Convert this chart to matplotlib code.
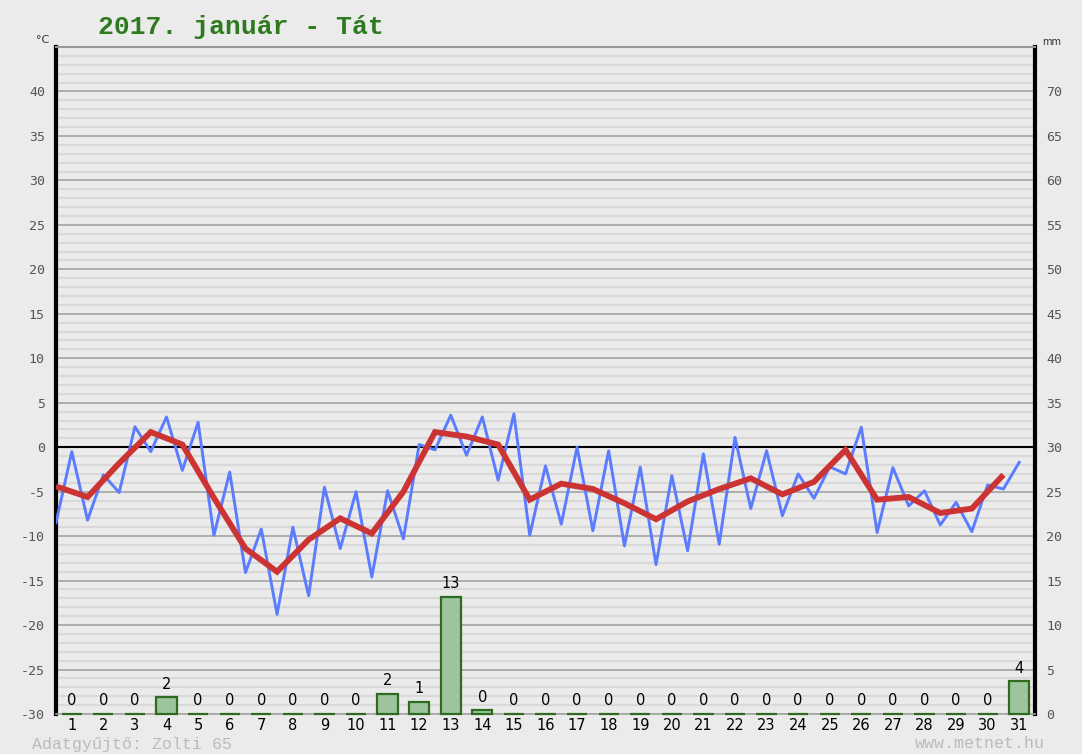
import numpy as np
import matplotlib.pyplot as plt

# daily data, 2017 January, Tát
days = np.arange(1, 32)
t_mean = [-4.4, -5.6, -1.8, 1.7, 0.3, -5.7, -11.4, -14.0, -10.4, -8.0,
          -9.7, -5.0, 1.7, 1.2, 0.3, -5.9, -4.1, -4.7, -6.3, -8.1,
          -6.1, -4.7, -3.5, -5.3, -3.9, -0.3, -5.9, -5.6, -7.4, -6.9, -3.1]
# two readings per day (min, max)
t_minmax = [-8.5, -0.5, -8.2, -3.1, -5.1, 2.3, -0.5, 3.4, -2.6, 2.8,
            -9.9, -2.8, -14.1, -9.2, -18.8, -9.0, -16.7, -4.5, -11.4, -5.0,
            -14.6, -4.9, -10.3, 0.3, -0.3, 3.6, -0.9, 3.4, -3.7, 3.75,
            -9.9, -2.1, -8.65, 0.0, -9.4, -0.4, -11.1, -2.25, -13.2, -3.2,
            -11.65, -0.75, -10.9, 1.1, -6.9, -0.4, -7.7, -3.0, -5.75, -2.2,
            -3.0, 2.25, -9.6, -2.3, -6.6, -4.9, -8.75, -6.2, -9.5, -4.25,
            -4.7, -1.7]
precip = [0, 0, 0, 1.9, 0, 0, 0, 0, 0, 0,
          2.25, 1.35, 13.2, 0.4, 0, 0, 0, 0, 0, 0,
          0, 0, 0, 0, 0, 0, 0, 0, 0, 0, 3.7]

bg = '#ebebeb'
fig = plt.figure(figsize=(10.82, 7.54), dpi=100, facecolor=bg)
ax = fig.add_axes([56 / 1082, 40 / 754, 979 / 1082, 667 / 754])
ax.set_facecolor(bg)

# grid: minor every 1 degree, major every 5
for v in range(-29, 45):
    if v % 5 != 0:
        ax.axhline(v, color='#d9d9d9', lw=1.6, zorder=0)
for v in range(-30, 45, 5):
    ax.axhline(v, color='#a3a3a3', lw=1.2, zorder=0.5)
ax.axhline(0, color='black', lw=1.5, zorder=1)

ax.set_xlim(0, 31)
ax.set_ylim(-30, 45)

x_half = np.arange(len(t_minmax)) * 0.5
ax.plot(x_half, t_minmax, color='#5b7cff', lw=2.1, zorder=3)
ax.plot(days - 1, t_mean, color='#cc3333', lw=4.2, zorder=4,
        solid_joinstyle='miter', solid_capstyle='butt')

ax.set_yticks(range(-30, 45, 5))
ax.set_yticklabels([str(v) for v in range(-30, 45, 5)],
                   fontfamily='DejaVu Sans Mono', fontsize=9.5, color='#555555')
ax.tick_params(axis='y', length=0, pad=8)
ax.set_xticks(days - 0.5)
ax.set_xticklabels([str(d) for d in days], fontsize=10.5, color='black')
ax.tick_params(axis='x', length=0, pad=3)

for s in ['left', 'right']:
    ax.spines[s].set_linewidth(3)
    ax.spines[s].set_color('black')
ax.spines['top'].set_color('#999999')
ax.spines['top'].set_linewidth(1.5)
ax.spines['bottom'].set_color('#a3a3a3')
ax.spines['bottom'].set_linewidth(1.2)

# precipitation on the mm axis
ax2 = ax.twinx()
ax2.set_ylim(0, 75)
bars = ax2.bar(days - 0.5, precip, width=0.64, color='#9dc49d', edgecolor='#2e6b1e',
               linewidth=1.6, zorder=2)
for b in bars:
    b.set_clip_on(False)
for d, p in zip(days, precip):
    ax2.annotate(f"{p:.0f}", (d - 0.5, p), xytext=(0, 4), textcoords='offset points',
                 ha='center', va='bottom', fontsize=10.5, color='black')
ax2.set_yticks(range(0, 75, 5))
ax2.set_yticklabels([str(v) for v in range(0, 75, 5)],
                    fontfamily='DejaVu Sans Mono', fontsize=9.5, color='#555555')
ax2.tick_params(axis='y', length=0, pad=8)
for s in ax2.spines.values():
    s.set_visible(False)

fig.text(98 / 1082, 1 - 27 / 754, '2017. január - Tát', fontfamily='Liberation Mono',
         fontweight='bold', fontsize=19, color='#2d7a1f', va='center', ha='left')
fig.text(36 / 1082, 1 - 40 / 754, '°C', fontsize=8, color='#333333', va='center')
fig.text(1042 / 1082, 1 - 42 / 754, 'mm', fontsize=7, color='#333333', va='center')
fig.text(32 / 1082, 1 - 744 / 754, 'Adatgyűjtő: Zolti 65', fontfamily='Liberation Mono',
         fontsize=12, color='#bbbbbb', va='center', ha='left')
fig.text(1045 / 1082, 1 - 744 / 754, 'www.metnet.hu', fontfamily='Liberation Mono',
         fontsize=12, color='#bbbbbb', va='center', ha='right')

fig.savefig('out.png', dpi=100, facecolor=bg)
